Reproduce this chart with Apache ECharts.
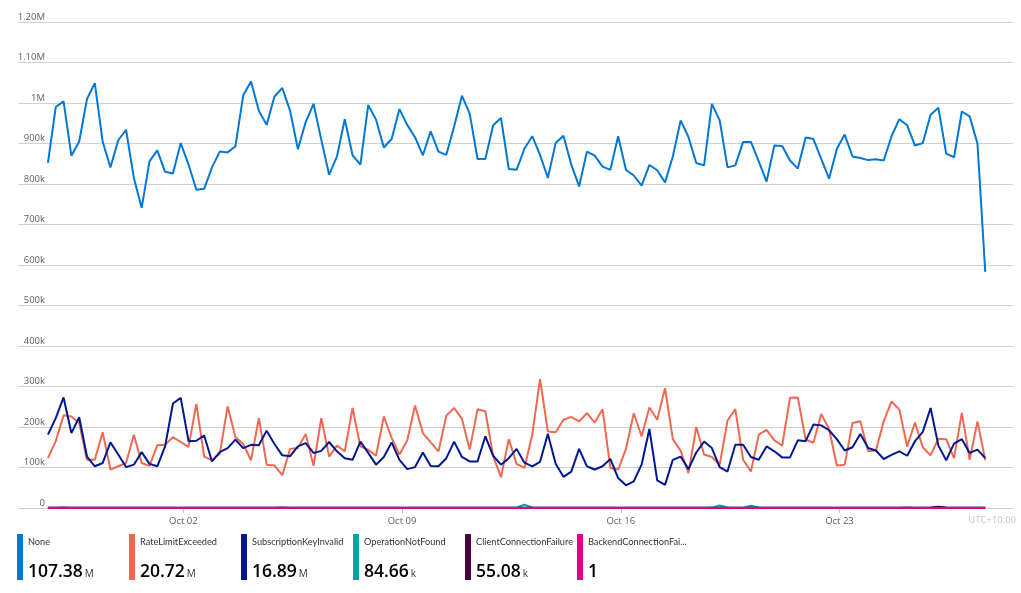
<!DOCTYPE html>
<html><head><meta charset="utf-8">
<script src="https://cdn.jsdelivr.net/npm/echarts@6/dist/echarts.min.js"></script>
<style>html,body{margin:0;padding:0;background:#fff}#c{width:1021px;height:593px}</style>
</head><body><div id="c"></div>
<script>
const seriesNames = ['None','RateLimitExceeded','SubscriptionKeyInvalid','OperationNotFound','ClientConnectionFailure','BackendConnectionFailure'];
const seriesColors = ['#0078d4','#ef6950','#00188f','#00a4a7','#4b003f','#e3008c'];
const totals = ['107.38','20.72','16.89','84.66','55.08','1'];
const units = ['M','M','M','k','k',''];
// x ticks: hours since Oct 02 00:00 (UTC+10)
const xTickHours = [0, 168, 336, 504];
const xTickLabels = ['Oct 02','Oct 09','Oct 16','Oct 23'];

const noneVals = [
852000,990000,1004000,870000,905000,1010000,1049000,905000,841000,908000,
934000,815000,741000,856000,883000,830000,826000,901000,848000,786000,
788000,841000,880000,878000,893000,1019000,1053000,981000,946000,1016000,
1037000,981000,886000,953000,998000,909000,823000,868000,960000,871000,
848000,995000,959000,890000,911000,985000,946000,915000,871000,930000,
880000,872000,942000,1018000,973000,862000,862000,945000,963000,837000,
835000,887000,918000,872000,815000,901000,919000,848000,794000,880000,
870000,843000,835000,918000,835000,821000,796000,847000,834000,804000,
868000,957000,916000,852000,846000,998000,957000,841000,846000,904000,
904000,856000,806000,895000,894000,858000,838000,915000,911000,862000,
813000,887000,922000,868000,864000,859000,861000,858000,918000,960000,
945000,895000,901000,971000,988000,875000,866000,979000,967000,900000,
583000];

const rateVals = [
123000,165000,229000,226000,210000,119000,119000,187000,95000,103000,
111000,181000,111000,104000,155000,156000,175000,163000,151000,257000,
127000,118000,134000,251000,175000,158000,118000,222000,107000,105000,
81000,146000,148000,183000,104000,222000,127000,154000,140000,247000,
152000,144000,129000,226000,173000,132000,167000,253000,185000,162000,
140000,228000,247000,220000,144000,244000,239000,128000,76000,170000,
109000,99000,181000,318000,189000,187000,218000,225000,214000,234000,
211000,244000,99000,95000,146000,234000,177000,248000,218000,296000,
170000,141000,86000,200000,132000,126000,107000,216000,244000,119000,
90000,181000,193000,167000,154000,272000,273000,169000,161000,232000,
195000,105000,107000,210000,214000,140000,142000,214000,263000,243000,
152000,211000,150000,130000,171000,170000,123000,235000,119000,214000,
118000];

const keyVals = [
181000,222000,273000,185000,224000,127000,103000,111000,162000,132000,
101000,107000,138000,109000,103000,152000,258000,272000,165000,166000,
179000,115000,138000,148000,169000,148000,156000,155000,191000,158000,
130000,128000,152000,160000,136000,141000,163000,140000,123000,119000,
164000,136000,107000,126000,162000,119000,96000,101000,137000,104000,
103000,123000,164000,126000,115000,115000,177000,129000,107000,123000,
146000,112000,103000,114000,183000,109000,77000,90000,146000,103000,
95000,103000,121000,74000,56000,66000,107000,195000,68000,57000,
119000,127000,96000,137000,164000,148000,101000,90000,156000,156000,
126000,119000,152000,140000,125000,125000,167000,165000,206000,204000,
192000,170000,142000,150000,183000,148000,142000,121000,131000,140000,
129000,165000,188000,247000,154000,118000,159000,170000,136000,144000,
123000];

const opVals = [
520,610,480,550,700,430,390,620,580,510,
470,660,540,500,450,590,630,410,560,520,
480,700,610,530,440,570,650,490,520,600,
460,530,580,620,510,470,540,690,430,560,
600,520,480,570,640,510,450,590,530,610,
500,470,560,620,540,480,520,500,480,510,
1200,8000,1500,520,560,520,610,480,540,590,
510,470,620,560,500,530,580,450,610,520,
540,600,480,560,520,1000,6000,1200,500,900,
5500,1000,600,540,510,580,470,620,530,500,
560,490,610,540,520,480,570,600,510,550,
530,490,580,520,560,500,540,610,470,520,
500];

const clientVals = [
410,520,1400,480,390,450,430,500,380,460,
420,470,390,440,510,400,430,460,380,420,
450,410,470,390,440,500,420,380,460,430,
1200,480,410,390,450,420,470,400,430,460,
390,440,420,480,410,450,400,430,470,390,
420,460,410,440,380,450,430,470,400,420,
460,390,440,410,480,420,450,400,430,470,
410,440,390,460,420,450,480,410,430,400,
460,420,440,390,470,410,450,430,400,460,
420,440,410,480,390,450,430,420,460,410,
440,400,470,420,450,430,410,460,440,900,
1100,420,900,1300,3000,1000,450,420,460,400,
380];

const backendVals = [
0,0,0,0,0,0,0,0,0,0,
0,0,0,0,0,0,0,0,0,0,
0,0,0,0,0,0,0,0,0,0,
0,0,0,0,0,0,0,0,0,0,
0,0,0,0,0,0,0,0,0,0,
0,0,0,0,0,0,0,0,0,0,
0,0,0,0,0,0,0,0,0,0,
0,0,0,0,0,1,0,0,0,0,
0,0,0,0,0,0,0,0,0,0,
0,0,0,0,0,0,0,0,0,0,
0,0,0,0,0,0,0,0,0,0,
0,0,0,0,0,0,0,0,0,0,
0];

// first sample: Sep 27 16:00 (UTC+10) = 104 h before Oct 02 00:00; 6-hour grain
const startHour = -104;
const stepHours = 6;
const allVals = [noneVals, rateVals, keyVals, opVals, clientVals, backendVals];

const FONT = "'Open Sans', 'Noto Sans', sans-serif";
const LFONT = "Lato, 'Open Sans', sans-serif";

function yFmt(v) {
  if (v === 0) return '0';
  if (v >= 1000000) return v === 1000000 ? '1M' : (v / 1000000).toFixed(2) + 'M';
  return (v / 1000) + 'k';
}

function makeLegend(name, k) {
  return {
    left: 17 + 112 * k, top: 534, padding: 0, itemWidth: 6, itemHeight: 46, icon: 'rect',
    data: [name],
    formatter: function (nm) {
      const i = seriesNames.indexOf(nm);
      return '{n|' + nm + '}\n{v|' + totals[i] + '}' + (units[i] ? '{u|' + units[i] + '}' : '');
    },
    textStyle: {
      width: 101.5, overflow: 'truncate', ellipsis: '...', fontFamily: FONT,
      rich: {
        n: {fontSize: 9.2, lineHeight: 30, color: '#323130', fontFamily: LFONT},
        v: {fontSize: 17.5, lineHeight: 30, fontWeight: 600, color: '#000000', fontFamily: FONT},
        u: {fontSize: 10, lineHeight: 30, color: '#323130', padding: [5, 0, 0, 2], fontFamily: FONT}
      }
    }
  };
}

const chart = echarts.init(document.getElementById('c'), null, {renderer: 'canvas'});
chart.setOption({
  animation: false,
  backgroundColor: '#ffffff',
  textStyle: {fontFamily: FONT},
  grid: {left: 18, right: 8, top: 22, bottom: 85, containLabel: false},
  xAxis: {
    type: 'value',
    min: startHour - 23,
    max: startHour + 741.3,
    axisLine: {show: false},
    splitLine: {show: false},
    axisTick: {show: true, customValues: xTickHours, length: 5, lineStyle: {color: '#c8c6c4'}},
    axisLabel: {
      customValues: xTickHours, margin: 8, color: '#605e5c', fontSize: 9.5, fontFamily: FONT,
      formatter: function (v) { const i = xTickHours.indexOf(v); return i >= 0 ? xTickLabels[i] : ''; }
    }
  },
  yAxis: {
    type: 'value', min: 0, max: 1200000, interval: 100000,
    axisLine: {show: false}, axisTick: {show: false},
    splitLine: {lineStyle: {color: '#d2d0ce', width: 1}},
    axisLabel: {inside: true, align: 'right', margin: 27, verticalAlign: 'bottom', color: '#605e5c', fontSize: 9.5, fontFamily: FONT, formatter: yFmt}
  },
  legend: seriesNames.map(makeLegend),
  graphic: [{
    type: 'text', right: 5, top: 515,
    style: {text: 'UTC+10:00', fill: '#c8c6c4', fontSize: 9.5, fontFamily: FONT}
  }],
  series: seriesNames.map((name, k) => ({
    name: name, type: 'line', showSymbol: false, symbol: 'none',
    color: seriesColors[k],
    lineStyle: {width: 2, color: seriesColors[k]},
    emphasis: {disabled: true},
    data: allVals[k].map((v, i) => [startHour + i * stepHours, v])
  }))
});
</script>
</body></html>
